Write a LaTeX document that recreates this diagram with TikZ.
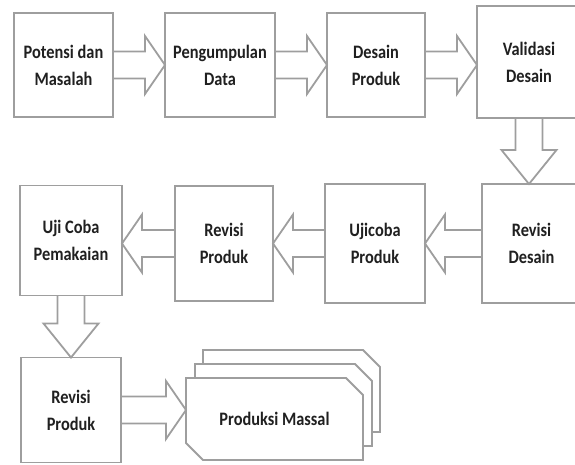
\documentclass[tikz,border=0pt]{standalone}
\usepackage{fontspec}
\setmainfont{Carlito}[FakeStretch=0.86]
\usetikzlibrary{positioning, calc, shapes.misc, shadows}

\definecolor{linegrey}{RGB}{158,158,158}
\definecolor{textgrey}{RGB}{32,32,32}
\newcommand{\arrshaft}{13.5pt}
\newcommand{\arrhead}{29pt}
\newcommand{\arrlen}{20pt}

\tikzset{
  stage/.style={rectangle, draw=linegrey, fill=white, line width=1.8pt, outer sep=0pt, inner sep=2pt,
    align=center, text=textgrey, font=\fontsize{19pt}{27pt}\selectfont\bfseries},
  docshape/.style={chamfered rectangle, chamfered rectangle corners={north east, south west},
    chamfered rectangle xsep=8pt, chamfered rectangle ysep=9pt,
    draw=linegrey, fill=white, line width=1.8pt, outer sep=0pt, text=textgrey,
    font=\fontsize{19pt}{27pt}\selectfont\bfseries},
  long head/.code={\renewcommand{\arrlen}{34pt}\renewcommand{\arrhead}{27.5pt}},
  blockarrow/.style={draw=linegrey, line width=1.8pt, line join=miter,
    to path={
      ($(\tikztotarget)!\arrlen!(\tikztostart)$) coordinate (ah)
      ($(\tikztostart)!\arrshaft!90:(\tikztotarget)$)
        -- ($(ah)!\arrshaft!90:(\tikztotarget)$)
        -- ($(ah)!\arrhead!90:(\tikztotarget)$)
        -- (\tikztotarget)
        -- ($(ah)!\arrhead!-90:(\tikztotarget)$)
        -- ($(ah)!\arrshaft!-90:(\tikztotarget)$)
        -- ($(\tikztostart)!\arrshaft!-90:(\tikztotarget)$)
    }}
}

\begin{document}
\begin{tikzpicture}[x=1pt, y=-1pt]
\useasboundingbox (0,0) rectangle (575,464);
\node[stage, minimum width=99pt, minimum height=104pt] (pot) at (63.5,65) {Potensi dan\\Masalah};
\node[stage, right=52pt of pot, minimum width=110pt, minimum height=104pt] (peng) {Pengumpulan\\Data};
\node[stage, right=52pt of peng, minimum width=98pt, minimum height=104pt] (des) {Desain\\Produk};
\node[stage, right=52pt of des, yshift=3pt, minimum width=104pt, minimum height=112pt] (val) {Validasi\\Desain};
\node[stage, below=66pt of val, xshift=2.5pt, minimum width=99pt, minimum height=119pt] (revd) {Revisi\\Desain};
\node[stage, left=57pt of revd, minimum width=100pt, minimum height=119pt] (ujip) {Ujicoba\\Produk};
\node[stage, left=52pt of ujip, minimum width=98pt, minimum height=115pt] (revp) {Revisi\\Produk};
\node[stage, left=53pt of revp, yshift=3pt, minimum width=102pt, minimum height=110pt] (uji) {Uji Coba\\Pemakaian};
\node[stage, below=62pt of uji, minimum width=100pt, minimum height=105pt] (revp2) {Revisi\\Produk};
\node[docshape, right=65pt of revp2, yshift=-9pt, minimum width=177pt, minimum height=82pt,
  copy shadow={shadow xshift=17pt, shadow yshift=28pt, draw=linegrey, fill=white, line width=1.8pt},
  copy shadow={shadow xshift=9pt, shadow yshift=14pt, draw=linegrey, fill=white, line width=1.8pt}] (mass) {Produksi Massal};
\draw[blockarrow] (pot.east) to (peng.west);
\draw[blockarrow] (peng.east) to (des.west);
\draw[blockarrow] (des.east) to (des.east -| val.west);
\draw[blockarrow, long head] (val.south) to (val.south |- revd.north);
\draw[blockarrow] (revd.west) to (ujip.east);
\draw[blockarrow] (ujip.west) to (revp.east);
\draw[blockarrow] (revp.west) to (revp.west -| uji.east);
\draw[blockarrow, long head] (uji.south) to (uji.south |- revp2.north);
\draw[blockarrow] (revp2.east) to (revp2.east -| mass.west);
\end{tikzpicture}
\end{document}
